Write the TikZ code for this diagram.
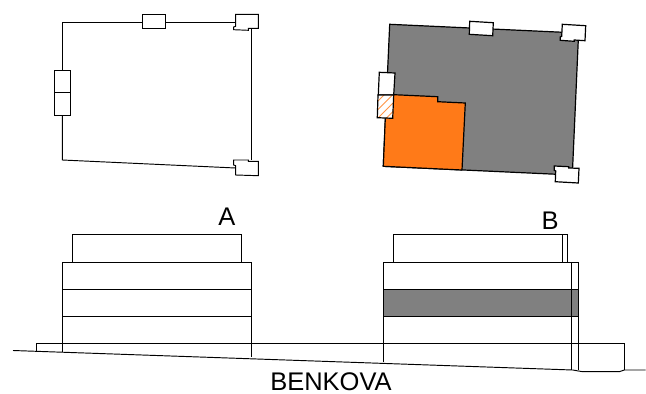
\documentclass[tikz,border=0pt]{standalone}
\usepackage{fontspec}
\setmainfont{Liberation Sans}
\definecolor{planorange}{RGB}{255,122,24}
\definecolor{plangrey}{RGB}{128,128,128}
\tikzset{
  ln/.style={draw=black,line width=0.95pt,line join=miter},
  heavy/.style={draw=black,line width=1.2pt,line join=miter},
  wbox/.style={heavy,fill=white},
  label text/.style={font=\fontsize{25.5}{25.5}\selectfont,inner sep=0pt,text=black}
}
\begin{document}
\begin{tikzpicture}[x=1pt,y=-1pt]
\useasboundingbox (0,0) rectangle (646,394);
% left plan
\draw[ln] (62.3,70) -- (62.3,22) -- (142.5,22);
\draw[ln] (165.5,22) -- (235.7,22);
\draw[ln] (251.7,28.3) -- (251.7,160);
\draw[ln] (62.3,115.5) -- (62.3,160) -- (235.7,168);
\draw[ln] (142.5,14.5) rectangle (165.5,28);
\draw[ln] (54.3,70) rectangle (70,115.5);
\draw[ln] (54.3,92.7) -- (70,92.7);
\draw[ln] (235.7,14.3) -- (258.3,14.3) -- (258.3,28.3) -- (248.3,28.3) -- (248.3,30.3) -- (233.7,29.7) -- (233.7,27) -- (235.7,26.3) -- cycle;
\draw[ln] (233.7,160) -- (248.3,160) -- (248.3,161.3) -- (258.3,161.3) -- (258.3,175.7) -- (235.7,175) -- (235.7,165.7) -- (233.7,165) -- cycle;
% right plan
\draw[heavy,fill=plangrey] (389.7,24.3) -- (578.6,33) -- (572.3,175) -- (383.3,166.3) -- cycle;
\draw[wbox] (469.7,21.3) -- (493.3,22.7) -- (492.7,35.7) -- (469.3,34.3) -- cycle;
\draw[wbox] (562.3,24.3) -- (585.7,25.7) -- (585,40.7) -- (574.3,40) -- (574.3,41.3) -- (560.3,40.3) -- (560.3,37) -- (561.7,36.3) -- cycle;
\draw[wbox] (554.3,166) -- (568.7,166.7) -- (568.7,168) -- (579,168.3) -- (578.3,183) -- (555.3,181.7) -- (555.7,171) -- (554.3,170.3) -- cycle;
\draw[wbox] (379.3,72.3) -- (395,73) -- (393.7,95) -- (378.3,95) -- cycle;
\fill[planorange] (394,94.7) -- (437.7,96.7) -- (437.7,101.7) -- (465.3,103) -- (462,170) -- (383.3,166.3) -- (385.3,118.3) -- (392.7,118.3) -- cycle;
\draw[heavy] (394,94.7) -- (437.7,96.7) -- (437.7,101.7) -- (465.3,103) -- (462,170);
\draw[heavy] (383.3,166.3) -- (462,170);
\draw[heavy] (383.3,166.3) -- (385.3,118.3);
\path[fill=white] (378,95) -- (393.7,95) -- (392.7,118.3) -- (377.3,117.7) -- cycle;
\begin{scope}
\clip (378,95) -- (393.7,95) -- (392.7,118.3) -- (377.3,117.7) -- cycle;
\foreach \k in {0,1,...,6}
  \draw[planorange!80,line width=1pt] (351+\k*8.5,128) -- (351+\k*8.5+40,88);
\end{scope}
\draw[heavy] (378,95) -- (393.7,95) -- (392.7,118.3) -- (377.3,117.7) -- cycle;
% elevation A
\draw[ln] (72.3,262) -- (72.3,234.7) -- (241.7,234.7) -- (241.7,262);
\draw[ln] (62.3,262) -- (251.7,262);
\draw[ln] (62.3,289.3) -- (251.7,289.3);
\draw[ln] (62.3,316.3) -- (251.7,316.3);
\draw[ln] (62.3,262) -- (62.3,351.7);
\draw[ln] (251.7,262) -- (251.7,357.3);
% base and ground
\draw[ln] (36.3,350.5) -- (36.3,343.7) -- (624.3,343.7) -- (624.3,370);
\draw[ln] (13,350.5) -- (572.7,370) -- (582.7,371.7) -- (619.3,371.7) -- (624.3,370) -- (645.7,370);
% elevation B
\draw[ln] (393.3,262) -- (393.3,234.7) -- (567.3,234.7) -- (567.3,262);
\draw[ln] (562.7,234.7) -- (562.7,262);
\draw[ln] (383.3,262) -- (578.3,262);
\draw[heavy,fill=plangrey] (383.3,289.3) rectangle (578.3,316.3);
\draw[ln] (383.3,262) -- (383.3,362.3);
\draw[ln] (571.7,262) -- (571.7,370);
\draw[ln] (578.3,262) -- (578.3,370);
% labels
\node[label text] (labA) at (227,217) {A};
\node[label text] (labB) at (550,221) {B};
\node[label text] (labC) at (331,381.5) {BENKOVA};
\end{tikzpicture}
\end{document}
